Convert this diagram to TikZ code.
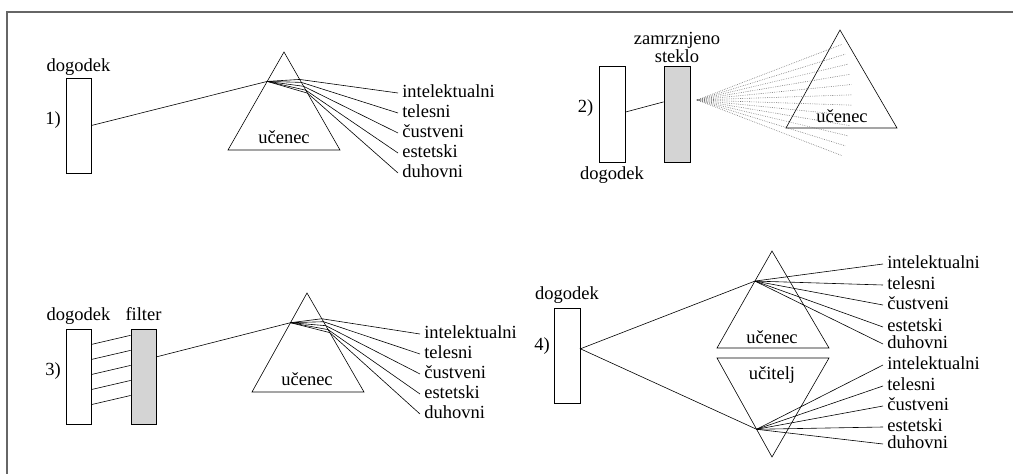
\documentclass[tikz,border=0pt]{standalone}
\usepackage{fontspec}
\setmainfont{Liberation Serif}
\usepackage{tikz}
\usetikzlibrary{calc}
\usetikzlibrary{positioning}
\definecolor{framegray}{gray}{0.4}
\definecolor{glassgray}{gray}{0.83}
\definecolor{fangray}{gray}{0.4}

\begin{document}
\begin{tikzpicture}[x=1pt,y=-1pt,semithick,
	every node/.style={font=\fontsize{18.5}{20}\selectfont}]
	\tikzstyle{txt}=[inner sep=2pt, text height=12pt, text depth=4pt]
	\tikzstyle{lab}=[txt, anchor=west, inner sep=4pt]
	\tikzstyle{box}=[draw, thick, inner sep=0pt, minimum width=25pt, minimum height=95pt]
	\tikzstyle{glass}=[box, fill=glassgray]
	\tikzstyle{fanray}=[dash pattern=on 0.6pt off 1.2pt, fangray, line width=0.6pt]
	\useasboundingbox (0,0) rectangle (1013,474);
	\draw[framegray, line width=1.2pt] (7,474) -- (7,12) -- (1013,12);

	% 1)
	\node[box] (ev1) at (78.5,125.5) {};
	\node[txt] (d1) [above=0pt of ev1] {dogodek};
	\node[txt] (n1) at (53,120) {1)};
	\coordinate (top1) at (284,52);
	\coordinate (lf1) at (228,150);
	\coordinate (rt1) at (340,150);
	\draw (top1) -- (lf1) -- (rt1) -- cycle;
	\node[txt] (s1) at (284,139) {učenec};
	\coordinate (in1) at ($(top1)!0.3!(lf1)$);
	\draw (ev1.east) -- (in1);
	\foreach \i/\t/\y/\w in {1/0.28/93/intelektualni, 2/0.31/113/telesni, 3/0.35/133/čustveni, 4/0.39/153/estetski, 5/0.42/173/duhovni}{
		\node[lab] (a\i) at (398,\y) {\w};
		\draw (in1) -- ($(top1)!\t!(rt1)$) -- (a\i.west);
	}

	% 2)
	\node[box, minimum width=26pt, minimum height=96pt] (ev2) at (612,114) {};
	\node[glass, minimum width=26pt, minimum height=96pt] (gl2) at (677,114) {};
	\node[txt] (d2) [below=3pt of ev2] {dogodek};
	\node[txt, align=center, font=\fontsize{18.5}{16}\selectfont, text height=, text depth=] (z2) [above=1pt of gl2] {zamrznjeno\\steklo};
	\node[txt] (n2) at (585.5,108) {2)};
	\draw ($(ev2.north east)!0.48!(ev2.south east)$) -- ($(gl2.north west)!0.375!(gl2.south west)$);
	\coordinate (top2) at (840,30);
	\coordinate (lf2) at (786,128);
	\coordinate (rt2) at (897,128);
	\draw (top2) -- (lf2) -- (rt2) -- cycle;
	\node[txt] (s2) at (842,118) {učenec};
	\coordinate (fan) at (697,100);
	\foreach \i in {0,...,11}
		\draw[fanray] (fan) -- ++({21-\i*42/11}:155);

	% 3)
	\node[box] (ev3) at (78.5,377) {};
	\node[glass] (fl3) at (143.5,377) {};
	\node[txt] (d3) [above=2pt of ev3] {dogodek};
	\node[txt] (f3) [above=2pt of fl3] {filter};
	\node[txt] (n3) at (53,371) {3)};
	\foreach \i in {0,...,4}
		\draw ($(ev3.north east)!{0.16+0.157*\i}!(ev3.south east)$) -- ($(fl3.north west)!{0.065+0.157*\i}!(fl3.south west)$);
	\coordinate (top3) at (307,293);
	\coordinate (lf3) at (252,392);
	\coordinate (rt3) at (364,392);
	\draw (top3) -- (lf3) -- (rt3) -- cycle;
	\node[txt] (s3) at (307,381) {učenec};
	\coordinate (in3) at ($(top3)!0.3!(lf3)$);
	\draw ($(fl3.north east)!0.29!(fl3.south east)$) -- (in3);
	\foreach \i/\t/\y/\w in {1/0.26/334/intelektualni, 2/0.29/354/telesni, 3/0.33/374/čustveni, 4/0.37/394/estetski, 5/0.40/414/duhovni}{
		\node[lab] (b\i) at (420,\y) {\w};
		\draw (in3) -- ($(top3)!\t!(rt3)$) -- (b\i.west);
	}

	% 4)
	\node[box, minimum width=26pt] (ev4) at (567,355.5) {};
	\node[txt] (d4) [above=2pt of ev4] {dogodek};
	\node[txt] (n4) at (542,346) {4)};
	\coordinate (top4) at (772,251);
	\coordinate (lf4) at (717,348);
	\coordinate (rt4) at (829,348);
	\draw (top4) -- (lf4) -- (rt4) -- cycle;
	\coordinate (bt4) at (772,457);
	\coordinate (ul4) at (717,358);
	\coordinate (ur4) at (829,358);
	\draw (bt4) -- (ul4) -- (ur4) -- cycle;
	\node[txt] (s4) at (772,339) {učenec};
	\node[txt] (t4) at (772,375) {učitelj};
	\coordinate (in4) at ($(top4)!0.31!(lf4)$);
	\coordinate (jn4) at ($(bt4)!0.28!(ul4)$);
	\coordinate (src4) at ($(ev4.north east)!0.43!(ev4.south east)$);
	\draw (in4) -- (src4) -- (jn4);
	\foreach \i/\y/\w in {1/264/intelektualni, 2/285/telesni, 3/305/čustveni, 4/327/estetski, 5/344/duhovni}{
		\node[lab] (u\i) at (883,\y) {\w};
		\draw (in4) -- (u\i.west);
	}
	\foreach \i/\y/\w in {1/365/intelektualni, 2/386/telesni, 3/406/čustveni, 4/427/estetski, 5/444/duhovni}{
		\node[lab] (l\i) at (883,\y) {\w};
		\draw (jn4) -- (l\i.west);
	}
\end{tikzpicture}
\end{document}
